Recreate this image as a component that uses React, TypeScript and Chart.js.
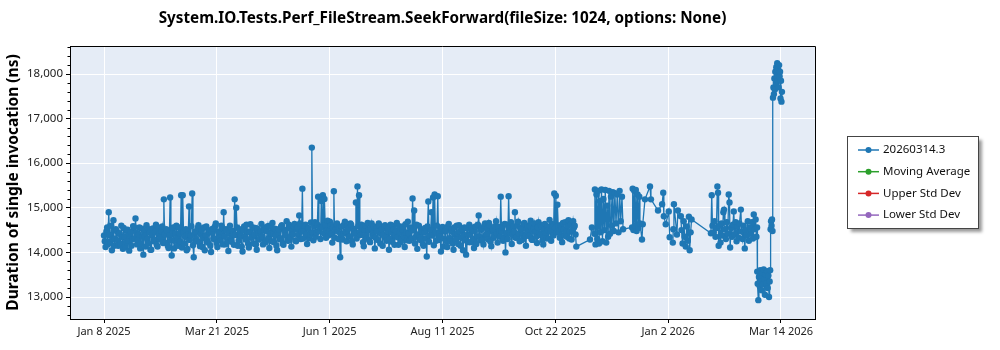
import React, { useEffect, useRef } from 'react';
import { Chart, registerables } from 'chart.js';

Chart.register(...registerables);

const FONT = '"Noto Sans", "DejaVu Sans", sans-serif';

const CHART_TITLE = 'System.IO.Tests.Perf_FileStream.SeekForward(fileSize: 1024, options: None)';
const Y_AXIS_TITLE = 'Duration of single invocation (ns)';
const SERIES_LABELS = ['20260314.3', 'Moving Average', 'Upper Std Dev', 'Lower Std Dev'];
const SERIES_COLORS = ['#1f77b4', '#2ca02c', '#d62728', '#9467bd'];

// x axis: days since Jan 8 2025
const X_MIN_DAY = -21.6;
const X_MAX_DAY = 451.6;
const xTickDays = [0, 71.67, 143.33, 215, 286.67, 358.33, 430];
const xTickLabels = ['Jan 8 2025', 'Mar 21 2025', 'Jun 1 2025', 'Aug 11 2025', 'Oct 22 2025', 'Jan 2 2026', 'Mar 14 2026'];

const Y_MIN = 12507;
const Y_MAX = 18628;
const yTickValues = [13000, 14000, 15000, 16000, 17000, 18000];

// first run of each day, starting Jan 8 2025 (day 0)
const dailyDurations = [
  14380, 14120, 14560, 14900, 14240, 14050, 14720, 14310, 14480, 14150,
  14420, 14600, 14080, 14350, 14230, 14510, 14040, 14460, 14290, 14570,
  14760, 14180, 14400, 14090, 14530, 13950, 14370, 14610, 14200, 14450,
  14060, 14540, 14280, 14620, 14130, 14410, 14330, 14580, 15190, 14220,
  14490, 14100, 15230, 13930, 14560, 14260, 14600, 14150, 14430, 15280,
  15280, 14200, 14520, 14080, 15030, 14380, 15320, 13890, 14470, 14250,
  14610, 14140, 14500, 14330, 14050, 14580, 14220, 14460, 14010, 14530,
  14300, 14650, 14120, 14420, 14270, 14560, 14900, 14180, 14490, 14030,
  14600, 14240, 14410, 15190, 15000, 14150, 14520, 14360, 14020, 14580,
  14290, 14470, 14110, 14630, 14340, 14200, 14550, 14060, 14440, 14310,
  14640, 14180, 14500, 14270, 14590, 14100, 14420, 14660, 14230, 14380,
  14050, 14520, 14320, 14610, 14170, 14470, 14700, 14260, 14550, 14130,
  14410, 14640, 14250, 14560, 14830, 14300, 15430, 14480, 14620, 14190,
  14530, 14400, 16350, 14270, 14680, 14450, 15250, 14560, 15150, 15280,
  15200, 14330, 14710, 14480, 14600, 14220, 15370, 14510, 14650, 14300,
  13890, 14580, 14420, 14690, 14250, 14530, 14360, 14620, 14180, 14470,
  15120, 15480, 15280, 14390, 14560, 14140, 14600, 14310, 14500, 14230,
  14650, 14370, 14090, 14540, 14280, 14610, 14420, 14150, 14570, 14330,
  14480, 14060, 14620, 14240, 14510, 14390, 14660, 14170, 14450, 14300,
  14580, 14120, 14440, 14690, 14260, 14530, 15210, 14940, 14350, 14080,
  14600, 14280, 14470, 14150, 14550, 13910, 15140, 14380, 14900, 15230,
  15300, 14260, 15260, 14430, 14020, 14570, 14310, 14490, 14120, 14640,
  14250, 14520, 14060, 14410, 14600, 14190, 14470, 14330, 14050, 14560,
  13950, 14400, 14620, 14230, 14500, 14100, 14580, 14360, 14830, 14270,
  14540, 14180, 14650, 14410, 14290, 14600, 14140, 14510, 14380, 14700,
  14220, 14470, 15250, 14560, 14310, 14000, 14620, 15260, 14430, 14190,
  14580, 14900, 14340, 14690, 14250, 14520, 14400, 14660, 14150, 14600,
  14370, 14710, 14280, 14540, 14460, 14210, 14680, 14390, 14570, 14180,
  14640, 14320, 14500, 14730, 14260, 14590, 15320, 15270, 15070, 14440,
  14610, 14230, 14520, 14680, 14350, 14720, 14470, 14290, 14700, 14600,
  14130,
];

// second run of each day (half a day after the first)
const dailySecondRunDurations = [
  14250, 14470, 14180, 14390, 14600, 14300, 14150, 14520, 14270, 14430,
  14190, 14340, 14550, 14120, 14480, 14260, 14390, 14150, 14590, 14320,
  14440, 14280, 14560, 14200, 14350, 14480, 14130, 14300, 14520, 14060,
  14380, 14250, 14460, 14170, 14560, 14290, 14480, 14210, 14400, 14520,
  14150, 14380, 14270, 14500, 14090, 14420, 14330, 14560, 14240, 14110,
  14460, 14350, 14050, 14400, 14280, 14590, 14160, 14420, 14300, 14550,
  14230, 14410, 14120, 14560, 14380, 14270, 14500, 14150, 14440, 14320,
  14580, 14210, 14470, 14330, 14600, 14180, 14360, 14520, 14250, 14430,
  14310, 14480, 14170, 14390, 14560, 14260, 14400, 14130, 14500, 14350,
  14620, 14200, 14450, 14330, 14560, 14410, 14180, 14530, 14290, 14470,
  14350, 14560, 14220, 14480, 14320, 14600, 14250, 14410, 14530, 14150,
  14460, 14300, 14580, 14200, 14510, 14380, 14270, 14620, 14340, 14490,
  14580, 14260, 14520, 14390, 14650, 14470, 14310, 14600, 14400, 14550,
  14320, 14670, 14450, 14590, 14350, 14620, 14480, 14300, 14560, 14430,
  14610, 14500, 14380, 14690, 14420, 14560, 14330, 14630, 14470, 14560,
  14410, 14290, 14620, 14470, 14580, 14360, 14650, 14250, 14530, 14420,
  14310, 14590, 14460, 14620, 14230, 14500, 14380, 14660, 14270, 14540,
  14420, 14580, 14330, 14470, 14650, 14200, 14520, 14390, 14610, 14260,
  14550, 14300, 14450, 14600, 14170, 14480, 14340, 14590, 14230, 14510,
  14360, 14630, 14270, 14420, 14560, 14310, 14490, 14200, 14620, 14400,
  14330, 14520, 14190, 14460, 14310, 14580, 14240, 14500, 14380, 14160,
  14450, 14600, 14280, 14350, 14530, 14130, 14470, 14250, 14590, 14320,
  14480, 14200, 14560, 14290, 14430, 14610, 14150, 14520, 14370, 14270,
  14540, 14230, 14400, 14560, 14300, 14480, 14190, 14620, 14350, 14510,
  14290, 14600, 14380, 14530, 14660, 14240, 14470, 14330, 14590, 14420,
  14570, 14350, 14480, 14260, 14640, 14430, 14300, 14550, 14680, 14390,
  14460, 14330, 14600, 14420, 14560, 14280, 14640, 14370, 14520, 14450,
  14590, 14300, 14480, 14650, 14350, 14560, 14430, 14610, 14270, 14500,
  14420, 14580, 14310, 14470, 14640, 14380, 14550, 14450, 14600, 14330,
  14520, 14660, 14380, 14450, 14590, 14310, 14630, 14480, 14560, 14400,
];

// [day, duration] runs after the daily period
const novemberRuns: [number, number][] = [
  [308.7, 14290], [309.9, 14560], [311.5, 14420], [311.8, 15410], [312.2, 14180],
  [312.8, 15300], [313.3, 14300], [314.0, 15380], [314.4, 14200], [315.0, 15150],
  [315.5, 14450], [316.0, 15410], [316.6, 14250], [317.2, 15200], [317.8, 14500],
  [318.4, 15400], [319.0, 14220], [319.6, 15050], [320.2, 14350], [320.8, 15380],
  [321.4, 14420], [322.0, 15250], [322.6, 14600], [323.2, 15350], [323.8, 14480],
  [324.5, 15330], [325.2, 14650], [326.0, 15300], [326.8, 14450], [327.5, 15380],
  [328.2, 14700], [329.0, 15250], [329.7, 14520],
];

const decemberRuns: [number, number][] = [
  [335.4, 14560], [335.8, 15430], [336.3, 14500], [336.8, 15380], [337.3, 14600],
  [337.8, 15400], [338.3, 14480], [338.9, 15300], [339.5, 14550], [340.0, 15250],
  [340.4, 14650], [341.7, 14290], [342.2, 14630], [343.6, 15190], [346.8, 15480],
  [347.4, 15190], [351.9, 14940], [354.5, 15080], [355.2, 15340], [355.6, 14810],
  [356.8, 14630], [358.7, 14920], [359.3, 14340], [361.3, 14220], [361.6, 14520],
  [362.0, 15080], [363.9, 14400], [364.5, 14940], [366.4, 14810], [366.8, 14500],
  [367.5, 14200], [368.2, 14700], [368.8, 14350], [369.5, 14130], [370.1, 14580],
  [370.8, 14260], [371.5, 14800], [372.0, 14050], [372.6, 14450], [373.2, 14740],
];

const februaryRuns: [number, number][] = [
  [385.5, 14430], [386.0, 15280], [386.5, 14600], [387.2, 14450], [387.8, 14700],
  [388.4, 14350], [389.0, 14550], [389.6, 15480], [390.0, 15340], [390.4, 14150],
  [391.0, 14600], [391.6, 14220], [392.2, 14650], [392.8, 14380], [393.4, 14900],
  [393.8, 14960], [394.4, 14520], [395.0, 14300], [395.6, 14680], [396.2, 14420],
  [396.8, 15300], [397.3, 15120], [397.7, 14110], [398.3, 14550], [398.9, 14350],
  [399.5, 14620], [400.0, 14920], [400.6, 14400], [401.2, 14680], [401.8, 14250],
  [402.4, 14580], [403.0, 14330], [403.6, 14650], [404.5, 14960], [405.0, 14470],
  [405.6, 14300], [406.3, 14600], [407.0, 14090], [407.6, 14500], [408.2, 14380],
  [408.9, 14700], [409.6, 14260], [410.3, 14560], [411.0, 14420], [411.6, 14680],
  [412.2, 14310], [412.7, 14850], [413.3, 14520], [413.9, 14740], [414.4, 14350],
  [414.8, 14560],
];

const marchRuns: [number, number][] = [
  [414.9, 13570], [415.2, 13300], [415.6, 12930], [416.0, 13450], [416.4, 13250],
  [416.8, 13600], [417.2, 13350], [417.7, 13150], [418.1, 13550], [418.5, 13280],
  [419.0, 13620], [419.4, 13400], [419.8, 13050], [420.3, 13500], [420.7, 13300],
  [421.2, 13580], [421.6, 13200], [422.0, 13480], [422.4, 13000], [422.8, 13350],
  [423.1, 13600], [423.4, 14520], [423.7, 14700], [424.0, 14600], [424.3, 14740],
  [424.6, 14480], [424.9, 17470], [425.2, 17700], [425.5, 17550], [425.8, 17900],
  [426.1, 17650], [426.4, 18050], [426.7, 17800], [427.0, 18150], [427.3, 17950],
  [427.6, 18240], [427.9, 17850], [428.2, 18100], [428.5, 17700], [428.8, 18200],
  [429.1, 17950], [429.4, 18050], [429.7, 17450], [430.0, 17850], [430.3, 17380],
  [430.6, 17600],
];

const plotBackground = {
  id: 'plotBackground',
  beforeDraw(chart: any) {
    const { ctx, chartArea: a } = chart;
    ctx.save();
    ctx.fillStyle = '#e5ecf6';
    ctx.fillRect(a.left, a.top, a.right - a.left, a.bottom - a.top);
    ctx.restore();
  },
};

const frameAndMinorTicks = {
  id: 'frameAndMinorTicks',
  afterDraw(chart: any) {
    const { ctx, chartArea: a } = chart;
    const y = chart.scales.y;
    ctx.save();
    ctx.strokeStyle = '#000';
    ctx.lineWidth = 1;
    ctx.beginPath();
    ctx.moveTo(a.left, a.top + 0.5);
    ctx.lineTo(a.right + 0.5, a.top + 0.5);
    ctx.lineTo(a.right + 0.5, a.bottom);
    ctx.stroke();
    ctx.beginPath();
    for (let v = Math.ceil(y.min / 200) * 200; v <= y.max; v += 200) {
      if (v % 1000 === 0) continue;
      const py = Math.round(y.getPixelForValue(v)) + 0.5;
      ctx.moveTo(a.left - 2.5, py);
      ctx.lineTo(a.left, py);
    }
    ctx.stroke();
    ctx.restore();
  },
};

const chartTitle = {
  id: 'chartTitle',
  afterDraw(chart: any) {
    const { ctx, chartArea: a } = chart;
    ctx.save();
    ctx.fillStyle = '#000';
    ctx.font = `bold 15.25px ${FONT}`;
    ctx.textAlign = 'center';
    ctx.textBaseline = 'middle';
    ctx.fillText(CHART_TITLE, (a.left + a.right) / 2, 19);
    ctx.restore();
  },
};

const boxedLegend = {
  id: 'boxedLegend',
  afterDraw(chart: any) {
    const { ctx } = chart;
    const bx = 847, by = 136, bw = 131, bh = 92;
    ctx.save();
    ctx.shadowColor = 'rgba(0,0,0,0.4)';
    ctx.shadowBlur = 3;
    ctx.shadowOffsetX = 4;
    ctx.shadowOffsetY = 4;
    ctx.fillStyle = '#fff';
    ctx.fillRect(bx, by, bw, bh);
    ctx.restore();
    ctx.save();
    ctx.strokeStyle = '#444';
    ctx.lineWidth = 1;
    ctx.strokeRect(bx + 0.5, by + 0.5, bw, bh);
    ctx.font = `11.5px ${FONT}`;
    ctx.textBaseline = 'middle';
    chart.data.datasets.forEach((ds: any, i: number) => {
      const cy = by + 14 + i * 21.7;
      ctx.strokeStyle = ds.borderColor;
      ctx.lineWidth = 1.5;
      ctx.beginPath();
      ctx.moveTo(bx + 11, cy);
      ctx.lineTo(bx + 32, cy);
      ctx.stroke();
      ctx.fillStyle = ds.pointBackgroundColor;
      ctx.beginPath();
      ctx.arc(bx + 21.5, cy, 3, 0, Math.PI * 2);
      ctx.fill();
      ctx.fillStyle = '#111';
      ctx.fillText(ds.label, bx + 36, cy);
    });
    ctx.restore();
  },
};

export default function App() {
  const canvasRef = useRef<HTMLCanvasElement>(null);

  useEffect(() => {
    document.body.style.margin = '0';
    const canvas = canvasRef.current;
    if (!canvas) return;

    const mainPoints: { x: number; y: number }[] = [];
    dailyDurations.forEach((v, i) => {
      mainPoints.push({ x: i, y: v });
      if (i < dailySecondRunDurations.length) {
        mainPoints.push({ x: i + 0.5, y: dailySecondRunDurations[i] });
      }
    });
    [...novemberRuns, ...decemberRuns, ...februaryRuns, ...marchRuns].forEach(([x, y]) => {
      mainPoints.push({ x, y });
    });

    const makeSeries = (i: number, data: any[]) => ({
      label: SERIES_LABELS[i],
      data,
      borderColor: SERIES_COLORS[i],
      backgroundColor: SERIES_COLORS[i],
      pointBackgroundColor: SERIES_COLORS[i],
      pointBorderColor: SERIES_COLORS[i],
      pointRadius: 3.2,
      pointBorderWidth: 0,
      borderWidth: 1.3,
      tension: 0,
      fill: false,
    });

    const chart = new Chart(canvas, {
      type: 'line',
      data: {
        datasets: [
          makeSeries(0, mainPoints),
          makeSeries(1, []),
          makeSeries(2, []),
          makeSeries(3, []),
        ],
      },
      options: {
        responsive: false,
        animation: false,
        devicePixelRatio: 1,
        layout: { padding: { top: 46, right: 185, left: 0, bottom: 0 } },
        plugins: {
          legend: { display: false },
          title: { display: false },
          tooltip: { enabled: false },
        },
        scales: {
          x: {
            type: 'linear',
            min: X_MIN_DAY,
            max: X_MAX_DAY,
            afterBuildTicks: (s: any) => {
              s.ticks = xTickDays.map((value) => ({ value }));
            },
            afterFit: (s: any) => {
              s.height = 31;
            },
            ticks: {
              autoSkip: false,
              maxRotation: 0,
              color: '#222',
              padding: 2,
              font: { family: FONT, size: 11 },
              callback: (_v: any, i: number) => xTickLabels[i],
            },
            grid: { color: '#ffffff', lineWidth: 1, tickColor: '#000', tickLength: 4 },
            border: { color: '#000', width: 1 },
          },
          y: {
            type: 'linear',
            min: Y_MIN,
            max: Y_MAX,
            afterBuildTicks: (s: any) => {
              s.ticks = yTickValues.map((value) => ({ value }));
            },
            afterFit: (s: any) => {
              s.width = 70;
            },
            ticks: {
              color: '#222',
              padding: 3,
              font: { family: FONT, size: 11.5 },
              callback: (v: any) => Number(v).toLocaleString('en-US'),
            },
            grid: { color: '#ffffff', lineWidth: 1, tickColor: '#000', tickLength: 4 },
            border: { color: '#000', width: 1 },
            title: {
              display: true,
              text: Y_AXIS_TITLE,
              color: '#000',
              font: { family: FONT, size: 15.5, weight: 'bold' },
              padding: { top: 4, bottom: 0 },
            },
          },
        },
      },
      plugins: [plotBackground, frameAndMinorTicks, chartTitle, boxedLegend],
    } as any);

    return () => chart.destroy();
  }, []);

  return (
    <div style={{ position: 'absolute', left: 0, top: 0, width: 1000, height: 350 }}>
      <canvas ref={canvasRef} width={1000} height={350} style={{ display: 'block' }} />
    </div>
  );
}
